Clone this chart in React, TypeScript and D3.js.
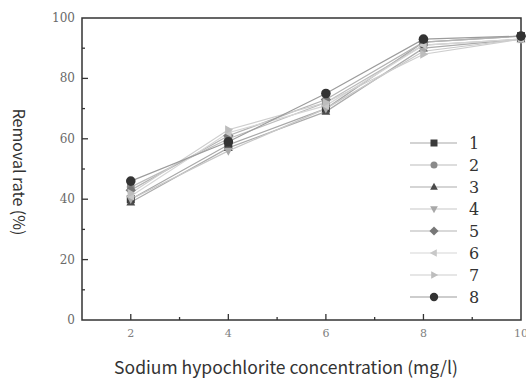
import React, { useEffect, useRef } from 'react';
import * as d3 from 'd3';

const concentrations = [2, 4, 6, 8, 10];
const seriesNames = ['1', '2', '3', '4', '5', '6', '7', '8'];
const s1 = [40, 58, 70, 92, 94];
const s2 = [44, 60, 72, 91, 93];
const s3 = [39, 57, 69, 90, 93];
const s4 = [40, 56, 70, 89, 93];
const s5 = [43, 61, 73, 92, 94];
const s6 = [41, 62, 71, 91, 93];
const s7 = [42, 63, 72, 88, 93];
const s8 = [46, 59, 75, 93, 94];
const seriesValues = [s1, s2, s3, s4, s5, s6, s7, s8];
const markerColors = ['#3a3a3a', '#8a8a8a', '#4a4a4a', '#a8a8a8', '#777777', '#c8c8c8', '#bdbdbd', '#333333'];
const lineColors = ['#a8a8a8', '#bcbcbc', '#acacac', '#c8c8c8', '#b4b4b4', '#d6d6d6', '#cecece', '#9c9c9c'];
const xTicks = [2, 4, 6, 8, 10];
const yTicks = [0, 20, 40, 60, 80, 100];

type Shape = 'square' | 'circle' | 'up' | 'down' | 'diamond' | 'left' | 'right' | 'bigcircle';
const shapes: Shape[] = ['square', 'circle', 'up', 'down', 'diamond', 'left', 'right', 'bigcircle'];

function markerPath(shape: Shape, s: number): string {
  switch (shape) {
    case 'square':
      return `M${-s},${-s}h${2 * s}v${2 * s}h${-2 * s}Z`;
    case 'up':
      return `M0,${-s * 1.2}L${s * 1.1},${s * 0.8}L${-s * 1.1},${s * 0.8}Z`;
    case 'down':
      return `M0,${s * 1.2}L${s * 1.1},${-s * 0.8}L${-s * 1.1},${-s * 0.8}Z`;
    case 'left':
      return `M${-s * 1.2},0L${s * 0.8},${-s * 1.1}L${s * 0.8},${s * 1.1}Z`;
    case 'right':
      return `M${s * 1.2},0L${-s * 0.8},${-s * 1.1}L${-s * 0.8},${s * 1.1}Z`;
    case 'diamond':
      return `M0,${-s * 1.3}L${s * 1.3},0L0,${s * 1.3}L${-s * 1.3},0Z`;
    case 'circle':
      return d3.symbol(d3.symbolCircle, Math.PI * s * s)() as string;
    default:
      return d3.symbol(d3.symbolCircle, Math.PI * (s * 1.2) * (s * 1.2))() as string;
  }
}

export default function App() {
  const svgRef = useRef<SVGSVGElement>(null);

  useEffect(() => {
    if (!svgRef.current) return;
    const svg = d3.select(svgRef.current);
    svg.selectAll('*').remove();

    const x = d3.scaleLinear().domain([1, 10]).range([82, 521]);
    const y = d3.scaleLinear().domain([0, 100]).range([320, 18]);

    // frame
    svg.append('rect')
      .attr('x', 82).attr('y', 18)
      .attr('width', 521 - 82).attr('height', 320 - 18)
      .attr('fill', 'none').attr('stroke', '#333').attr('stroke-width', 1.5);

    // x ticks (inward)
    const xMinor = [3, 5, 7, 9];
    svg.selectAll('.xt').data(xTicks.filter(d => d < 10)).enter().append('line')
      .attr('x1', d => x(d)).attr('x2', d => x(d))
      .attr('y1', 320).attr('y2', 314)
      .attr('stroke', '#333').attr('stroke-width', 1.3);
    svg.selectAll('.xm').data(xMinor).enter().append('line')
      .attr('x1', d => x(d)).attr('x2', d => x(d))
      .attr('y1', 320).attr('y2', 317)
      .attr('stroke', '#333').attr('stroke-width', 1.3);
    svg.selectAll('.xl').data(xTicks).enter().append('text')
      .attr('x', d => x(d)).attr('y', 337)
      .attr('text-anchor', 'middle')
      .attr('font-family', 'DejaVu Serif').attr('font-size', 11)
      .attr('fill', '#808080')
      .text(d => d);

    // y ticks
    const yMinor = [10, 30, 50, 70, 90];
    svg.selectAll('.yt').data(yTicks.filter(d => d > 0 && d < 100)).enter().append('line')
      .attr('x1', 82).attr('x2', 88)
      .attr('y1', d => y(d)).attr('y2', d => y(d))
      .attr('stroke', '#333').attr('stroke-width', 1.3);
    svg.selectAll('.ym').data(yMinor).enter().append('line')
      .attr('x1', 82).attr('x2', 85)
      .attr('y1', d => y(d)).attr('y2', d => y(d))
      .attr('stroke', '#333').attr('stroke-width', 1.3);
    svg.selectAll('.yl').data(yTicks).enter().append('text')
      .attr('x', 75).attr('y', d => y(d) + 4)
      .attr('text-anchor', 'end')
      .attr('font-family', 'DejaVu Serif').attr('font-size', 12)
      .attr('fill', '#6a6a6a')
      .text(d => d);

    // lines
    const line = d3.line<number>()
      .x((_, i) => x(concentrations[i]))
      .y(d => y(d));
    seriesValues.forEach((vals, i) => {
      svg.append('path')
        .attr('d', line(vals) as string)
        .attr('fill', 'none')
        .attr('stroke', lineColors[i])
        .attr('stroke-width', 1.2);
    });
    seriesValues.forEach((vals, i) => {
      svg.selectAll(`.m${i}`).data(vals).enter().append('path')
        .attr('transform', (d, j) => `translate(${x(concentrations[j])},${y(d)})`)
        .attr('d', markerPath(shapes[i], 4))
        .attr('fill', markerColors[i]);
    });

    // legend
    const lg = svg.append('g');
    seriesNames.forEach((name, i) => {
      const ly = 143 + i * 22;
      lg.append('line')
        .attr('x1', 410).attr('x2', 457)
        .attr('y1', ly).attr('y2', ly)
        .attr('stroke', lineColors[i]).attr('stroke-width', 1.2);
      lg.append('path')
        .attr('transform', `translate(434,${ly})`)
        .attr('d', markerPath(shapes[i], 3.5))
        .attr('fill', markerColors[i]);
      lg.append('text')
        .attr('x', 469).attr('y', ly + 6)
        .attr('font-family', 'DejaVu Serif').attr('font-size', 16)
        .attr('fill', '#333')
        .text(name);
    });

    // axis titles
    svg.append('text')
      .attr('x', 286).attr('y', 374)
      .attr('text-anchor', 'middle')
      .attr('font-family', 'Noto Sans CJK SC, Noto Sans, sans-serif')
      .attr('font-size', 17.5)
      .attr('fill', '#333')
      .text('Sodium hypochlorite concentration (mg/l)');
    svg.append('text')
      .attr('transform', 'translate(13,172) rotate(90)')
      .attr('text-anchor', 'middle')
      .attr('font-family', 'Noto Sans CJK SC, Noto Sans, sans-serif')
      .attr('font-size', 16)
      .attr('fill', '#333')
      .text('Removal rate (%)');
  }, []);

  return (
    <svg ref={svgRef} width={526} height={378}
      style={{ position: 'absolute', left: 0, top: 0, background: '#fff' }} />
  );
}
